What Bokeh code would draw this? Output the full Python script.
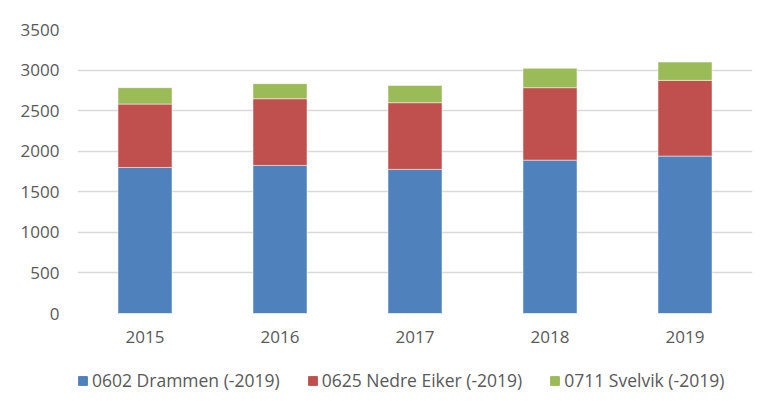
from bokeh.plotting import figure
from bokeh.layouts import column
from bokeh.models import ColumnDataSource, Range1d, Legend, LegendItem, FixedTicker
from bokeh.embed import file_html
from bokeh.resources import INLINE

years = ["2015", "2016", "2017", "2018", "2019"]
drammen = [1800, 1825, 1776, 1890, 1940]
nedre_eiker = [781, 822, 822, 893, 933]
svelvik = [202, 185, 213, 238, 226]
series_names = ["0602 Drammen (-2019)", "0625 Nedre Eiker (-2019)", "0711 Svelvik (-2019)"]
colors = ["#4f81bd", "#c0504d", "#9bbb59"]
y_ticks = [0, 500, 1000, 1500, 2000, 2500, 3000, 3500]

keys = ["drammen", "nedre", "svelvik"]
src = ColumnDataSource(dict(years=years, drammen=drammen, nedre=nedre_eiker, svelvik=svelvik))

FONT = "Open Sans"
TEXT = "#595959"

p = figure(x_range=years, y_range=Range1d(0, 3500), frame_width=675, frame_height=284,
           output_backend="svg", toolbar_location=None,
           min_border_left=77, min_border_right=6, min_border_top=29, min_border_bottom=40)
p.outline_line_color = None

p.vbar_stack(keys, x="years", width=0.4, source=src, color=colors,
             line_color="white", line_width=0.8, line_alpha=0.6)

p.yaxis.ticker = FixedTicker(ticks=y_ticks)
for ax in (p.xaxis[0], p.yaxis[0]):
    ax.axis_line_color = None
    ax.major_tick_line_color = None
    ax.minor_tick_line_color = None
    ax.major_label_text_font = FONT
    ax.major_label_text_font_size = "17px"
    ax.major_label_text_color = TEXT
p.yaxis.major_label_standoff = 12
p.xaxis.major_label_standoff = 11
p.xgrid.grid_line_color = None
p.ygrid.grid_line_color = "#d9d9d9"
p.ygrid.grid_line_width = 1.5

# legend strip below the chart (its bars lie outside its visible range; only the legend shows)
lp = figure(x_range=years, y_range=Range1d(90000, 90001), width=758, height=40,
            output_backend="svg", toolbar_location=None,
            x_axis_location=None, y_axis_location=None,
            min_border_left=0, min_border_right=0, min_border_top=0, min_border_bottom=0)
lp.outline_line_color = None
lp.xgrid.grid_line_color = None
lp.ygrid.grid_line_color = None
lrs = lp.vbar_stack(keys, x="years", width=0.4, source=src, color=colors)

legend = Legend(items=[LegendItem(label=n, renderers=[r]) for n, r in zip(series_names, lrs)],
                orientation="horizontal", location=(0, 1))
legend.label_text_font = FONT
legend.label_text_font_size = "17.5px"
legend.label_text_color = TEXT
legend.glyph_width = 11
legend.glyph_height = 11
legend.label_standoff = 4
legend.spacing = 27
legend.padding = 0
legend.margin = 0
legend.border_line_color = None
legend.background_fill_alpha = 0
legend.label_height = 18
lp.add_layout(legend, "center")

layout = column(p, lp, spacing=0)
open("out.html", "w").write(file_html(layout, INLINE))
